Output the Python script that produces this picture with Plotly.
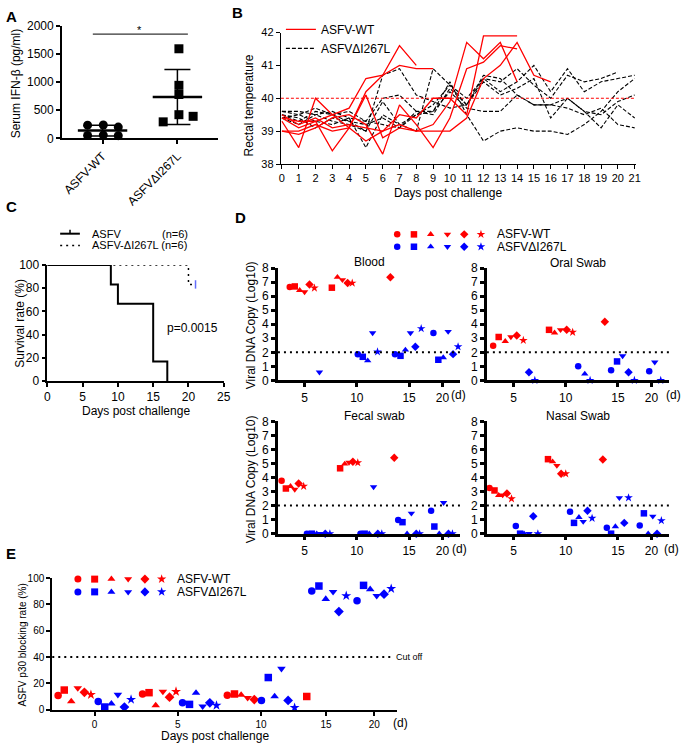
import statistics
import plotly.graph_objects as go

W, H = 689, 750
FONT = "Liberation Sans, Arial, Helvetica, sans-serif"
RED = "#FF0000"
BLUE = "#0000FF"
SYMBOLS = ["circle", "square", "triangle-up", "triangle-down", "diamond", "star"]

# ---------------- A: serum IFN-beta
a_groups = ["ASFV-WT", "ASFVΔI267L"]
a_wt_x = [0.80, 1.01, 1.21, 0.80, 1.01, 1.21]
a_wt_y = [237, 240, 202, 55, 60, 50]
a_mut_x = [2.02, 2.02, 2.02, 2.02, 1.81, 2.21]
a_mut_y = [1590, 942, 780, 422, 295, 393]

# ---------------- B: rectal temperature (one list per pig, day 0 onwards)
b_days = list(range(22))
b_wt = [
    [39.4, 39.1, 39.3, 39.5, 39.7, 40.6, 40.7, 41.6, 41.0],
    [39.0, 39.0, 39.2, 39.0, 39.1, 40.2, 40.7, 41.0, 40.9, 40.9],
    [39.3, 38.5, 40.0, 39.5, 39.1, 38.7, 39.0, 39.5, 39.4, 40.0, 40.0, 39.5, 41.9, 41.9, 41.9],
    [39.4, 39.3, 39.3, 38.4, 39.1, 40.1, 38.8, 39.1, 39.0, 39.2, 39.9, 41.7, 41.2, 41.7, 40.5],
    [39.0, 38.9, 39.1, 39.4, 39.5, 39.2, 38.3, 39.8, 39.2, 38.5, 39.4, 40.9, 41.1, 41.6, 41.5],
    [39.5, 39.2, 39.4, 39.1, 39.2, 39.1, 39.0, 39.2, 39.0, 39.0, 39.0, 39.4, 40.6, 41.0, 41.7, 40.7, 40.5],
]
b_mut = [
    [39.5, 39.4, 39.1, 39.4, 39.3, 39.2, 39.4, 39.1, 39.5, 39.6, 40.5, 39.5, 38.7, 39.0, 39.1, 39.0, 39.0, 38.9, 39.2, 39.6, 40.2, 40.6],
    [39.6, 39.6, 39.5, 39.3, 39.2, 39.0, 40.7, 40.9, 40.1, 39.9, 39.7, 39.8, 40.6, 40.5, 40.9, 40.4, 40.0, 40.7, 40.5, 40.6, 40.8],
    [39.4, 39.2, 39.5, 39.6, 39.4, 38.5, 39.5, 39.2, 39.0, 40.9, 40.4, 40.0, 40.6, 40.2, 40.5, 41.0, 40.2, 40.9, 40.2, 40.5, 40.6, 40.7],
    [39.5, 39.3, 39.6, 39.5, 39.6, 39.3, 40.0, 40.1, 39.6, 39.5, 40.3, 39.8, 40.7, 40.6, 40.1, 39.8, 39.8, 40.0, 39.6, 39.5, 39.9, 40.1],
    [39.4, 39.5, 39.7, 39.5, 39.3, 39.0, 39.9, 39.2, 39.5, 39.8, 40.4, 39.8, 40.5, 40.1, 40.3, 40.6, 39.4, 40.0, 39.6, 39.1, 39.8, 39.4],
    [39.6, 39.5, 39.3, 39.2, 39.4, 39.3, 39.2, 39.1, 39.6, 39.6, 40.2, 39.7, 39.6, 39.6, 40.1, 39.8, 39.8, 39.7, 39.5, 39.7, 39.2, 39.1],
]

# ---------------- C: survival
c_wt_days = [0, 9, 10, 15, 17]
c_wt_surv = [100, 83.3, 66.7, 16.7, 0]
c_mut_days = [0, 20, 21]
c_mut_surv = [100, 83.3, 83.3]

# ---------------- D: viral DNA (symbol index -> pig)
blood_wt_x = [3.58, 4.06, 4.53, 5.00, 5.47, 5.94, 7.61, 8.14, 8.62, 9.12, 9.56, 13.21]
blood_wt_y = [6.65, 6.69, 6.41, 6.30, 6.82, 6.58, 6.60, 7.35, 7.16, 6.93, 6.93, 7.35]
blood_wt_s = [0, 1, 2, 3, 4, 5, 1, 2, 3, 4, 5, 4]
blood_mut_x = [6.42, 10.09, 10.57, 11.04, 11.51, 11.98, 13.65, 14.18, 14.65, 15.13, 15.60, 16.16,
               17.33, 17.80, 18.27, 18.74, 19.21, 19.69]
blood_mut_y = [0.58, 1.87, 1.68, 1.40, 3.38, 2.03, 1.87, 1.75, 2.17, 3.38, 2.40, 3.69,
               3.38, 1.47, 1.63, 3.48, 1.87, 2.40]
blood_mut_s = [3, 0, 1, 2, 3, 5, 0, 1, 2, 3, 4, 5, 0, 1, 2, 3, 4, 5]

oral_wt_x = [3.05, 3.58, 4.21, 4.75, 5.31, 5.94, 8.40, 8.93, 9.50, 10.09, 10.66, 13.74]
oral_wt_y = [2.46, 3.09, 2.78, 3.09, 3.20, 2.85, 3.60, 3.39, 3.60, 3.60, 3.43, 4.18]
oral_wt_s = [0, 1, 2, 3, 4, 5, 1, 2, 3, 4, 5, 4]
oral_mut_x = [6.48, 7.04, 11.19, 11.82, 12.33, 14.34, 14.91, 15.44, 16.01, 16.57, 17.99, 18.52, 19.09]
oral_mut_y = [0.58, 0, 1.0, 0.46, 0, 0.72, 1.35, 1.74, 0.58, 0, 0.65, 1.30, 0]
oral_mut_s = [4, 5, 0, 2, 5, 0, 1, 3, 4, 5, 0, 3, 5]

fecal_wt_x = [2.80, 3.21, 3.65, 4.06, 4.43, 4.91, 8.40, 8.84, 9.25, 9.62, 10.09, 13.58]
fecal_wt_y = [3.78, 3.22, 3.38, 3.15, 3.57, 3.38, 4.66, 4.97, 5.08, 5.13, 5.06, 5.41]
fecal_wt_s = [0, 1, 2, 3, 4, 5, 1, 2, 3, 4, 5, 4]
fecal_mut_x = [5.22, 5.69, 6.16, 6.57, 6.98, 7.42, 10.35, 10.75, 11.19, 11.60, 12.01, 12.39,
               13.96, 14.37, 14.81, 15.22, 15.69, 16.01, 17.11, 17.42, 17.89, 18.30, 18.77, 19.15]
fecal_mut_y = [0, 0, 0, 0, 0, 0, 0, 0, 0, 3.33, 0, 0,
               0.98, 0.82, 0, 1.45, 0, 0, 1.63, 0.51, 0, 2.21, 0, 0]
fecal_mut_s = [0, 1, 2, 3, 4, 5] * 4

nasal_wt_x = [2.70, 3.18, 3.58, 3.96, 4.37, 4.81, 8.30, 8.74, 9.15, 9.56, 10.0, 13.55]
nasal_wt_y = [3.26, 3.08, 2.73, 2.75, 2.87, 2.49, 5.31, 5.13, 4.85, 4.27, 4.27, 5.29]
nasal_wt_s = [0, 1, 2, 3, 4, 5, 1, 2, 3, 4, 5, 4]
nasal_mut_x = [5.22, 5.63, 6.01, 6.48, 6.89, 7.33, 10.41, 10.79, 11.26, 11.67, 12.08, 12.52,
               13.93, 14.34, 14.75, 15.13, 15.60, 16.01, 17.08, 17.48, 17.89, 18.33, 18.74, 19.15]
nasal_mut_y = [0.54, 0, 0, 0, 1.24, 0, 1.56, 0.77, 1.17, 0.86, 1.63, 1.10,
               0.42, 0, 0.51, 2.56, 0.77, 2.56, 0.58, 1.45, 0, 1.24, 0, 0.93]
nasal_mut_s = [0, 1, 2, 3, 4, 5] * 4

d_ticks = [5, 10, 15, 18.2]
d_ticktext = ["5", "10", "15", "20"]

# ---------------- E: p30 blocking rate
e_wt_x = [-2.19, -1.82, -1.40, -1.01, -0.61, -0.22, 2.88, 3.27, 3.67, 4.10, 4.50, 4.89,
          7.97, 8.40, 8.80, 9.19, 9.59, 12.74]
e_wt_y = [10.7, 14.9, 6.2, 16.4, 13.2, 11.4, 11.9, 12.9, 3.2, 13.7, 9.5, 13.7,
          10.9, 11.9, 11.2, 9.0, 7.7, 10.0]
e_wt_s = [0, 1, 2, 3, 4, 5, 0, 1, 2, 3, 4, 5, 0, 1, 2, 3, 4, 1]
e_mut_x = [0.22, 0.61, 1.01, 1.40, 1.79, 2.19, 5.28, 5.70, 6.09, 6.49, 6.92, 7.32,
           10.02, 10.43, 10.81, 11.22, 11.62, 12.01, 13.04, 13.47, 13.88, 14.32, 14.67, 15.11,
           15.76, 16.15, 16.55, 16.94, 17.38, 17.81]
e_mut_y = [6.2, 2.0, 4.5, 11.4, 2.0, 7.7, 5.2, 4.0, 12.7, 2.5, 5.2, 3.2,
           7.0, 24.4, 10.0, 31.1, 7.0, 1.5, 90.3, 94.0, 84.1, 89.6, 74.6, 86.6,
           82.8, 94.5, 91.5, 86.6, 87.8, 92.0]
e_mut_s = [0, 1, 2, 3, 4, 5] * 5
e_ticks = [0, 5, 10, 13.9, 16.8]
e_ticktext = ["0", "5", "10", "15", "20"]
e_cutoff = 40


def dom_x(a, b):
    return [a / W, b / W]


def dom_y(top, bottom):
    return [1 - bottom / H, 1 - top / H]


def axis(lw=1.5, size=12, **kw):
    d = dict(showline=True, linecolor="black", linewidth=lw, ticks="outside", ticklen=4,
             tickwidth=lw, tickcolor="black", showgrid=False, zeroline=False,
             tickfont=dict(family=FONT, size=size, color="black"), fixedrange=True)
    d.update(kw)
    return d


fig = go.Figure()

# ---- A
for xs, ys, sym, c in [(a_wt_x, a_wt_y, "circle", 1), (a_mut_x, a_mut_y, "square", 2)]:
    m = statistics.mean(ys)
    sd = statistics.stdev(ys)
    fig.add_trace(go.Scatter(x=xs, y=ys, mode="markers", cliponaxis=False,
                             marker=dict(symbol=sym, color="black", size=9),
                             xaxis="x", yaxis="y", showlegend=False))
    fig.add_trace(go.Scatter(x=[c - 0.33, c + 0.33], y=[m, m], mode="lines",
                             line=dict(color="black", width=2.5),
                             xaxis="x", yaxis="y", showlegend=False))
    fig.add_trace(go.Scatter(x=[c], y=[m], mode="markers",
                             marker=dict(size=1, color="rgba(0,0,0,0)"),
                             error_y=dict(type="data", array=[sd], color="black", thickness=1.5, width=13),
                             xaxis="x", yaxis="y", showlegend=False))

# ---- B
for i, temps in enumerate(b_mut):
    fig.add_trace(go.Scatter(x=b_days[:len(temps)], y=temps, mode="lines",
                             line=dict(color="black", width=1.1, dash="4px,2px"),
                             name="ASFVΔI267L", legendgroup="mut", showlegend=(i == 0),
                             xaxis="x2", yaxis="y2", legendrank=2))
for i, temps in enumerate(b_wt):
    fig.add_trace(go.Scatter(x=b_days[:len(temps)], y=temps, mode="lines",
                             line=dict(color=RED, width=1.3),
                             name="ASFV-WT", legendgroup="wt", showlegend=(i == 0),
                             xaxis="x2", yaxis="y2", legendrank=1))

# ---- C
fig.add_trace(go.Scatter(x=c_wt_days, y=c_wt_surv, mode="lines", line_shape="hv",
                         line=dict(color="black", width=2), cliponaxis=False,
                         xaxis="x3", yaxis="y3", showlegend=False))
fig.add_trace(go.Scatter(x=c_mut_days, y=c_mut_surv, mode="lines", line_shape="hv",
                         line=dict(color="black", width=1.5, dash="2px,4px"), cliponaxis=False,
                         xaxis="x3", yaxis="y3", showlegend=False))
fig.add_trace(go.Scatter(x=c_mut_days[-1:], y=c_mut_surv[-1:], mode="markers", cliponaxis=False,
                         marker=dict(symbol="line-ns-open", size=6, line=dict(color="black", width=1.5)),
                         xaxis="x3", yaxis="y3", showlegend=False))

# ---- D
d_sets = [
    ("x4", "y4", blood_wt_x, blood_wt_y, blood_wt_s, blood_mut_x, blood_mut_y, blood_mut_s),
    ("x5", "y5", oral_wt_x, oral_wt_y, oral_wt_s, oral_mut_x, oral_mut_y, oral_mut_s),
    ("x6", "y6", fecal_wt_x, fecal_wt_y, fecal_wt_s, fecal_mut_x, fecal_mut_y, fecal_mut_s),
    ("x7", "y7", nasal_wt_x, nasal_wt_y, nasal_wt_s, nasal_mut_x, nasal_mut_y, nasal_mut_s),
]
for xa, ya, wx, wy, ws, mx, my, ms in d_sets:
    for xs, ys, ss, col in [(wx, wy, ws, RED), (mx, my, ms, BLUE)]:
        fig.add_trace(go.Scatter(x=xs, y=ys, mode="markers", cliponaxis=False,
                                 marker=dict(symbol=[SYMBOLS[s] for s in ss], color=col, size=6.5),
                                 xaxis=xa, yaxis=ya, showlegend=False))

# ---- E
for xs, ys, ss, col in [(e_wt_x, e_wt_y, e_wt_s, RED), (e_mut_x, e_mut_y, e_mut_s, BLUE)]:
    fig.add_trace(go.Scatter(x=xs, y=ys, mode="markers", cliponaxis=False,
                             marker=dict(symbol=[SYMBOLS[s] for s in ss], color=col, size=7.5),
                             xaxis="x8", yaxis="y8", showlegend=False))

# ---- symbol legends for D and E
for xa, ya, size in [("x9", "y9", 6.5), ("x10", "y10", 7)]:
    for row, col in [(1, RED), (0, BLUE)]:
        fig.add_trace(go.Scatter(x=list(range(len(SYMBOLS))), y=[row] * len(SYMBOLS), mode="markers",
                                 marker=dict(symbol=SYMBOLS, color=col, size=size), cliponaxis=False,
                                 xaxis=xa, yaxis=ya, showlegend=False))

hidden = dict(visible=False, fixedrange=True)
d_x = dict(range=[2.45, 19.9], tickvals=d_ticks, ticktext=d_ticktext)
d_y = dict(range=[0, 8], dtick=1, tick0=0)
fig.update_layout(
    xaxis=axis(2, 12, domain=dom_x(60, 218), range=[0.46, 2.54], tickvals=[1, 2],
               ticktext=a_groups, tickangle=-45, anchor="y"),
    yaxis=axis(2, 12, domain=dom_y(19, 134), range=[0, 2000], dtick=500, anchor="x"),
    xaxis2=axis(1.2, 11, domain=dom_x(282, 642), range=[-0.06, 21.06], dtick=1, tick0=0, anchor="y2"),
    yaxis2=axis(1.2, 11, domain=dom_y(26, 160), range=[38, 42], dtick=1, anchor="x2"),
    xaxis3=axis(1.5, 12, domain=dom_x(45, 224), range=[0, 25], dtick=5, anchor="y3"),
    yaxis3=axis(1.5, 12, domain=dom_y(263, 381), range=[0, 100], dtick=20, anchor="x3"),
    xaxis4=axis(2.5, 12, domain=dom_x(279, 464), anchor="y4", **d_x),
    yaxis4=axis(2.5, 12, domain=dom_y(266, 380.5), anchor="x4", **d_y),
    xaxis5=axis(2.5, 12, domain=dom_x(491, 676), anchor="y5", **d_x),
    yaxis5=axis(2.5, 12, domain=dom_y(266, 380.5), anchor="x5", **d_y),
    xaxis6=axis(2.5, 12, domain=dom_x(279, 464), anchor="y6", **d_x),
    yaxis6=axis(2.5, 12, domain=dom_y(422.3, 536.7), anchor="x6", **d_y),
    xaxis7=axis(2.5, 12, domain=dom_x(491, 676), anchor="y7", **d_x),
    yaxis7=axis(2.5, 12, domain=dom_y(422.3, 536.7), anchor="x7", **d_y),
    xaxis8=axis(2, 10, domain=dom_x(50, 400), range=[-2.54, 18.17], tickvals=e_ticks,
                ticktext=e_ticktext, anchor="y8"),
    yaxis8=axis(2, 10, domain=dom_y(582, 716), range=[0, 100], dtick=20, anchor="x8"),
    xaxis9=dict(hidden, domain=dom_x(391.5, 493.5), range=[-0.5, 5.5], anchor="y9"),
    yaxis9=dict(hidden, domain=dom_y(225.4, 250.6), range=[-0.5, 1.5], anchor="x9"),
    xaxis10=dict(hidden, domain=dom_x(67.5, 169.5), range=[-0.5, 5.5], anchor="y10"),
    yaxis10=dict(hidden, domain=dom_y(576.5, 602.5), range=[-0.5, 1.5], anchor="x10"),
)

shapes = [
    # significance bar in A
    dict(type="line", xref="x", yref="y", x0=0.87, x1=2.14, y0=1850, y1=1850,
         line=dict(color="black", width=1)),
    # fever threshold in B
    dict(type="line", xref="x2 domain", yref="y2", x0=0, x1=1, y0=40, y1=40,
         line=dict(color=RED, width=1, dash="3px,2px")),
    # cut-off in E
    dict(type="line", xref="x8 domain", yref="y8", x0=0, x1=0.986, y0=e_cutoff, y1=e_cutoff,
         line=dict(color="black", width=2, dash="2px,4px")),
    # C legend glyphs
    dict(type="line", xref="paper", yref="paper", x0=58 / W, x1=78 / W, y0=1 - 231 / H, y1=1 - 231 / H,
         line=dict(color="black", width=2)),
    dict(type="line", xref="paper", yref="paper", x0=68 / W, x1=68 / W, y0=1 - 231 / H, y1=1 - 227 / H,
         line=dict(color="black", width=1.5)),
    dict(type="line", xref="paper", yref="paper", x0=58 / W, x1=78 / W, y0=1 - 243 / H, y1=1 - 243 / H,
         line=dict(color="black", width=1.5, dash="2px,4px")),
]
for ya in ["y4", "y5", "y6", "y7"]:
    xa = "x" + ya[1:]
    shapes.append(dict(type="line", xref=xa + " domain", yref=ya, x0=0, x1=1, y0=2, y1=2,
                       line=dict(color="black", width=2, dash="2px,4px")))

anns = []


def text(t, x, y, size=12, xanchor="center", angle=0, bold=False):
    anns.append(dict(text=f"<b>{t}</b>" if bold else t, x=x / W, y=1 - y / H, xref="paper", yref="paper",
                     xanchor=xanchor, yanchor="middle", showarrow=False, textangle=angle,
                     font=dict(family=FONT, size=size, color="black")))


for letter, x, y in [("A", 1, 10), ("B", 230, 6), ("C", 1, 203), ("D", 233, 215), ("E", 1, 557)]:
    text(letter, x, y, 15, "left", bold=True)

text("Serum IFN-β (pg/ml)", 13, 78, 12, angle=-90)
text("*", 139, 23, 11)
text("Rectal temperature", 250, 100, 12, angle=-90)
text("Days post challenge", 452, 190, 12)
text("ASFV", 88, 231, 11, "left")
text("(n=6)", 190, 231, 11, "right")
text("ASFV-ΔI267L (n=6)", 88, 243, 11, "left")
text("Survival rate (%)", 17, 322, 12, angle=-90)
text("Days post challenge", 135, 412, 12)
text("p=0.0015", 192, 327, 12)
text("ASFV-WT", 499, 231.7, 12, "left")
text("ASFVΔI267L", 499, 244.3, 12, "left")
text("Blood", 372, 260, 12)
text("Oral Swab", 583, 261, 12)
text("Fecal swab", 377, 417, 12)
text("Nasal Swab", 583, 417, 12)
text("Viral DNA Copy (Log10)", 252, 324, 12, angle=-90)
text("Viral DNA Copy (Log10)", 252, 481, 12, angle=-90)
for x, y in [(462, 395), (680, 395), (463, 552), (678, 552)]:
    text("(d)", x, y, 12)
text("ASFV-WT", 175, 583, 12, "left")
text("ASFVΔI267L", 175, 596, 12, "left")
text("ASFV p30 blocking rate (%)", 20, 650, 10, angle=-90)
text("Cut off", 397, 662, 9, "left")
text("(d)", 403, 730, 12)
text("Days post challenge", 215, 743, 12)

fig.update_layout(
    width=W, height=H, margin=dict(l=0, r=0, t=0, b=0),
    paper_bgcolor="white", plot_bgcolor="white",
    font=dict(family=FONT, size=12, color="black"),
    shapes=shapes, annotations=anns,
    legend=dict(x=282 / W, y=1 - 8 / H, xanchor="left", yanchor="top", bgcolor="rgba(0,0,0,0)",
                font=dict(family=FONT, size=12, color="black"), itemwidth=30, tracegroupgap=0),
)

# the page body has a default 8px margin; drop it so the figure fills the window exactly
fig.write_html("out.html", config={"displayModeBar": False},
               post_script="document.body.style.margin='0px';")
